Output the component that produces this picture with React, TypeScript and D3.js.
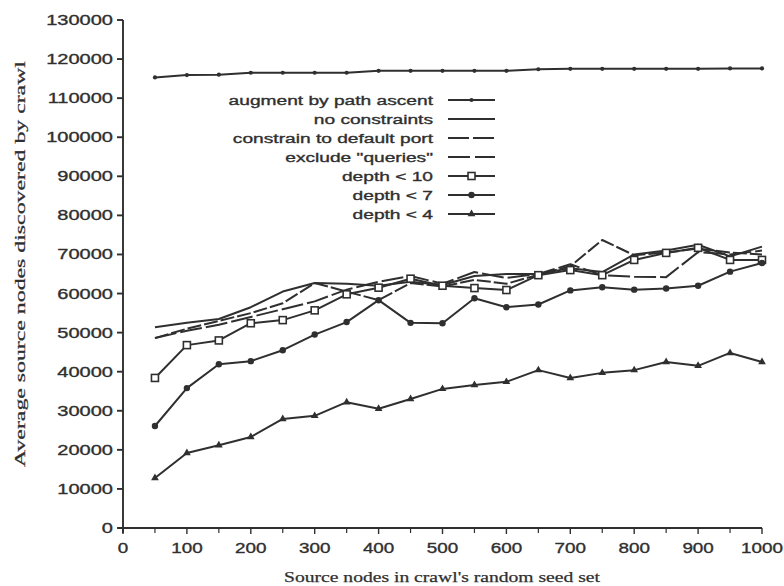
import React from 'react';
import * as d3 from 'd3';

// Seed-set sizes sampled along the x axis
const seedSizes = [50, 100, 150, 200, 250, 300, 350, 400, 450, 500, 550, 600, 650, 700, 750, 800, 850, 900, 950, 1000];

// Average source nodes discovered, one array per crawl strategy
const augmentPathAscent = [115300, 115900, 116000, 116500, 116500, 116500, 116500, 117000, 117000, 117000, 117000, 117000, 117400, 117500, 117500, 117500, 117500, 117500, 117600, 117600];
const noConstraints = [51400, 52500, 53500, 56500, 60500, 62700, 62500, 62000, 63000, 62200, 64500, 65000, 65000, 66500, 65500, 70000, 71000, 72500, 69500, 72000];
const defaultPort = [48600, 51000, 53000, 55000, 57500, 62700, 60500, 58300, 62700, 61800, 63500, 62500, 64800, 67000, 73700, 69800, 70500, 71500, 70500, 70000];
const excludeQueries = [48600, 50500, 52000, 54000, 56000, 58000, 61000, 63000, 64500, 62500, 65500, 64000, 65000, 67500, 64700, 64300, 64200, 70600, 70000, 71000];
const depth10 = [38400, 46800, 48000, 52400, 53200, 55700, 59800, 61500, 63800, 62000, 61400, 60900, 64700, 66000, 64700, 68600, 70400, 71700, 68600, 68600];
const depth7 = [26100, 35800, 41900, 42700, 45500, 49500, 52700, 58300, 52500, 52400, 58800, 56500, 57200, 60800, 61600, 61000, 61300, 62000, 65600, 67800];
const depth4 = [12800, 19200, 21200, 23300, 27900, 28700, 32200, 30500, 33000, 35600, 36600, 37400, 40400, 38400, 39700, 40400, 42500, 41500, 44800, 42500];

const seriesNames = [
  'augment by path ascent',
  'no constraints',
  'constrain to default port',
  'exclude "queries"',
  'depth < 10',
  'depth < 7',
  'depth < 4',
];

const yTickValues = [0, 10000, 20000, 30000, 40000, 50000, 60000, 70000, 80000, 90000, 100000, 110000, 120000, 130000];
const xTickValues = [0, 100, 200, 300, 400, 500, 600, 700, 800, 900, 1000];
const xMinorTickValues = [50, 150, 250, 350, 450, 550, 650, 750, 850, 950];

const xTitle = "Source nodes in crawl's random seed set";
const yTitle = 'Average source nodes discovered by crawl';

type Marker = 'dot' | 'none' | 'square' | 'circle' | 'triangle';

const series: { name: string; values: number[]; dash?: string; legendDash?: string; marker: Marker }[] = [
  { name: seriesNames[0], values: augmentPathAscent, marker: 'dot' },
  { name: seriesNames[1], values: noConstraints, marker: 'none' },
  { name: seriesNames[2], values: defaultPort, dash: '14,3', legendDash: '21,4', marker: 'none' },
  { name: seriesNames[3], values: excludeQueries, dash: '22,4', legendDash: '22,5', marker: 'none' },
  { name: seriesNames[4], values: depth10, marker: 'square' },
  { name: seriesNames[5], values: depth7, marker: 'circle' },
  { name: seriesNames[6], values: depth4, marker: 'triangle' },
];

const W = 784;
const H = 586;
const INK = '#2f2f2f';
const SANS = '"Liberation Sans", Arial, Helvetica, sans-serif';
const SERIF = '"Liberation Serif", "Times New Roman", serif';
const STRETCH = 1.42;

const x = d3.scaleLinear().domain([0, 1000]).range([123, 762]);
const y = d3.scaleLinear().domain([0, 130000]).range([528, 20]);

const lineGen = d3
  .line<[number, number]>()
  .x((d) => x(d[0]))
  .y((d) => y(d[1]));

const triPath = d3.symbol(d3.symbolTriangle, 26)() as string;

function MarkerShape({ kind, cx, cy }: { kind: Marker; cx: number; cy: number }) {
  switch (kind) {
    case 'dot':
      return <circle cx={cx} cy={cy} r={2.1} fill={INK} />;
    case 'square':
      return <rect x={cx - 3.5} y={cy - 3.5} width={7} height={7} fill="#fff" stroke={INK} strokeWidth={1.6} />;
    case 'circle':
      return <circle cx={cx} cy={cy} r={3.2} fill={INK} />;
    case 'triangle':
      return <path d={triPath} transform={`translate(${cx},${cy})`} fill={INK} />;
    default:
      return null;
  }
}

export default function App() {
  const legendX = 433;
  const legendY0 = 100;
  const legendStep = 19;

  return (
    <svg
      width={W}
      height={H}
      viewBox={`0 0 ${W} ${H}`}
      style={{ position: 'absolute', left: 0, top: 0, background: '#fff' }}
    >
      <rect width={W} height={H} fill="#fff" />

      {/* axes */}
      <g stroke={INK} strokeWidth={1.9} fill="none">
        <line x1={x(0)} x2={x(0)} y1={y(130000)} y2={y(0) + 5} />
        <line x1={x(0) - 5} x2={x(1000)} y1={y(0)} y2={y(0)} />
        {yTickValues.map((v) => (
          <line key={`yt${v}`} x1={x(0) - 6} x2={x(0)} y1={y(v)} y2={y(v)} />
        ))}
        {xTickValues.map((v) => (
          <line key={`xt${v}`} x1={x(v)} x2={x(v)} y1={y(0)} y2={y(0) + 6} strokeWidth={1.4} />
        ))}
        {xMinorTickValues.map((v) => (
          <line key={`xm${v}`} x1={x(v)} x2={x(v)} y1={y(0)} y2={y(0) + 5} strokeWidth={1.2} />
        ))}
      </g>

      {/* tick labels */}
      <g fill={INK} stroke={INK} strokeWidth={0.35} fontFamily={SANS} fontSize={14.5}>
        {yTickValues.map((v) => (
          <text
            key={`yl${v}`}
            transform={`translate(${x(0) - 10},${y(v) + 5}) scale(1.38,1)`}
            textAnchor="end"
          >
            {v}
          </text>
        ))}
        {xTickValues.map((v) => (
          <text
            key={`xl${v}`}
            transform={`translate(${x(v)},${y(0) + 25}) scale(1.3,1)`}
            textAnchor="middle"
          >
            {v}
          </text>
        ))}
      </g>

      {/* axis titles */}
      <text
        x={442}
        y={582}
        textAnchor="middle"
        fontFamily={SERIF}
        fontSize={15}
        fill={INK}
        stroke={INK}
        strokeWidth={0.25}
        textLength={316}
        lengthAdjust="spacingAndGlyphs"
      >
        {xTitle}
      </text>
      <text
        transform={`translate(25,${264}) rotate(-90)`}
        textAnchor="middle"
        fontFamily={SERIF}
        fontSize={15}
        fill={INK}
        stroke={INK}
        strokeWidth={0.25}
        textLength={406}
        lengthAdjust="spacingAndGlyphs"
      >
        {yTitle}
      </text>

      {/* series */}
      {series.map((s) => {
        const pts = seedSizes.map((sz, i) => [sz, s.values[i]] as [number, number]);
        return (
          <g key={s.name}>
            <path
              d={lineGen(pts) as string}
              fill="none"
              stroke={INK}
              strokeWidth={2}
              strokeDasharray={s.dash}
              strokeLinejoin="round"
            />
            {pts.map((p, i) => (
              <MarkerShape key={i} kind={s.marker} cx={x(p[0])} cy={y(p[1])} />
            ))}
          </g>
        );
      })}

      {/* legend */}
      <g>
        {series.map((s, i) => {
          const ly = legendY0 + i * legendStep;
          return (
            <g key={`lg${i}`}>
              <text
                transform={`translate(${legendX},${ly + 5}) scale(${STRETCH},1)`}
                textAnchor="end"
                fontFamily={SANS}
                fontSize={13.5}
                fill={INK}
                stroke={INK}
                strokeWidth={0.35}
              >
                {s.name}
              </text>
              <line
                x1={448}
                x2={495}
                y1={ly}
                y2={ly}
                stroke={INK}
                strokeWidth={2}
                strokeDasharray={s.legendDash}
              />
              <MarkerShape kind={s.marker} cx={471.5} cy={ly} />
            </g>
          );
        })}
      </g>
    </svg>
  );
}
